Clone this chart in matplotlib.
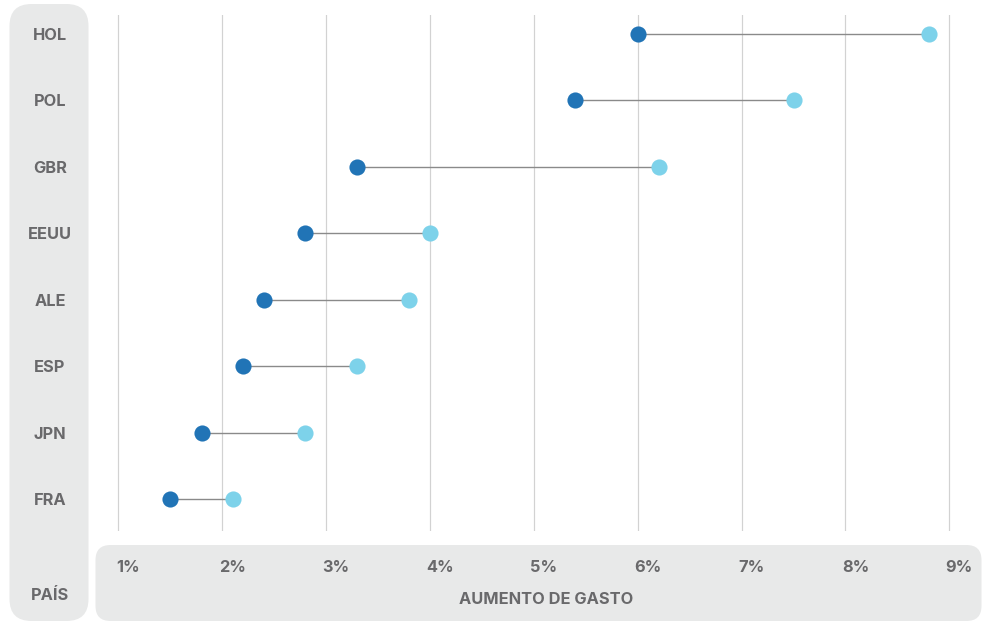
import matplotlib
matplotlib.use("Agg")
import matplotlib.pyplot as plt
from matplotlib.patches import FancyBboxPatch
from matplotlib.transforms import IdentityTransform, offset_copy, blended_transform_factory

# ---- data ----
countries = ["HOL", "POL", "GBR", "EEUU", "ALE", "ESP", "JPN", "FRA"]
start_vals = [6.0, 5.4, 3.3, 2.8, 2.4, 2.2, 1.8, 1.5]
end_vals = [8.8, 7.5, 6.2, 4.0, 3.8, 3.3, 2.8, 2.1]
tick_vals = [1, 2, 3, 4, 5, 6, 7, 8, 9]
tick_labels = ["1%", "2%", "3%", "4%", "5%", "6%", "7%", "8%", "9%"]
x_title = "AUMENTO DE GASTO"
y_title = "PAÍS"

W, H, DPI = 982, 623, 100
TXT = "#69696b"
PANEL = "#e8e9e9"
DARK = "#2174b6"
LIGHT = "#7dd2ea"
FONT = ["Inter", "DejaVu Sans"]
FS = 11.8

fig = plt.figure(figsize=(W / DPI, H / DPI), dpi=DPI)
fig.patch.set_facecolor("white")

# rounded background panels (pixel coordinates, origin bottom-left)
left_panel = FancyBboxPatch((9.5, 2), 79, 617,
                            boxstyle="round,pad=0,rounding_size=22",
                            transform=IdentityTransform(), facecolor=PANEL,
                            edgecolor="none", zorder=-1)
bottom_panel = FancyBboxPatch((95.5, 2), 886, 76,
                              boxstyle="round,pad=0,rounding_size=15",
                              transform=IdentityTransform(), facecolor=PANEL,
                              edgecolor="none", zorder=-1)
fig.add_artist(left_panel)
fig.add_artist(bottom_panel)

# axes spanning the plotting region
ax_left, ax_right = 96 / W, 982 / W
ax_bottom, ax_top = 1 - 531 / H, 1 - 15 / H
ax = fig.add_axes([ax_left, ax_bottom, ax_right - ax_left, ax_top - ax_bottom])
ax.set_facecolor("none")
for s in ax.spines.values():
    s.set_visible(False)

px_per_unit = 103.85
x0 = 1 - (118.5 - 96) / px_per_unit
x1 = 1 + (982 - 118.5) / px_per_unit
ax.set_xlim(x0, x1)
n = len(countries)
ax.set_ylim(-0.482, (n - 1) + 0.286)
ax.set_xticks([])
ax.set_yticks([])

for v in tick_vals:
    ax.axvline(v, color="#d2d2d2", lw=0.85, zorder=0)

ypos = [n - 1 - i for i in range(n)]
for y, a, b in zip(ypos, start_vals, end_vals):
    ax.plot([a, b], [y, y], color="#8a8a8a", lw=1.0, zorder=1, solid_capstyle="butt")
ax.scatter(start_vals, ypos, s=135, color=DARK, zorder=3, linewidths=0)
ax.scatter(end_vals, ypos, s=135, color=LIGHT, zorder=2, linewidths=0)

# category labels in left panel
lab_tr = offset_copy(blended_transform_factory(IdentityTransform(), ax.transData),
                     fig=fig, x=0, y=-1.5, units="dots")
for y, c in zip(ypos, countries):
    ax.text(50, y, c, transform=lab_tr, fontsize=FS, fontweight="bold",
            color=TXT, family=FONT, ha="center", va="center")

# x tick labels in bottom panel
tick_tr = offset_copy(blended_transform_factory(ax.transData, IdentityTransform()),
                      fig=fig, x=10, y=0, units="dots")
for v, lab in zip(tick_vals, tick_labels):
    ax.text(v, H - 567.5, lab, transform=tick_tr, fontsize=FS, fontweight="bold",
            color=TXT, family=FONT, ha="center", va="center")

fig.text(546 / W, 1 - 600 / H, x_title, fontsize=FS, fontweight="bold",
         color=TXT, family=FONT, ha="center", va="center")
fig.text(49.5 / W, 1 - 595 / H, y_title, fontsize=FS, fontweight="bold",
         color=TXT, family=FONT, ha="center", va="center")

fig.savefig("out.png", dpi=DPI)
